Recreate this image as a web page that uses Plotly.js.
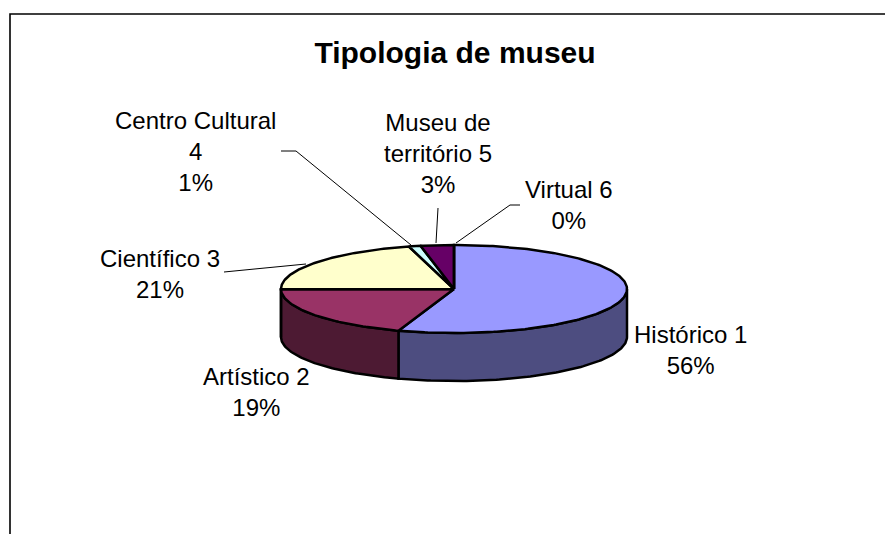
<!DOCTYPE html>
<html>
<head>
<meta charset="utf-8">
<script src="https://cdn.plot.ly/plotly-3.0.1.min.js"></script>
<style>html,body{margin:0;padding:0;background:#fff}#c{width:885px;height:534px}</style>
</head>
<body>
<div id="c"></div>
<script>
var categories = ["Histórico 1","Artístico 2","Científico 3","Centro Cultural 4","Museu de território 5","Virtual 6"];
var shares = [55.2, 19.7, 20.9, 1.1, 3.1, 0];
var topColors = ["#9999FF","#993366","#FFFFCC","#CCFFFF","#660066","#FF8080"];
var wallColors = ["#4D4D80","#4D1A33","#808066","#668080","#330033","#804040"];
var labelLines = [
  "Histórico 1<br>56%",
  "Artístico 2<br>19%",
  "Científico 3<br>21%",
  "Centro Cultural<br>4<br>1%",
  "Museu de<br>território 5<br>3%",
  "Virtual 6<br>0%"
];
var labelAnchors = [[690,350],[256,392],[160,274],[195,151],[438,153],[569,205]];
var leaderXs = [[224,306],[281,296,411],[438,436],[520,510,456]];
var leaderYs = [[272,264],[151,151,245],[208,243],[205,205,243]];

var cx = 454, cy = 289, rx = 173, ry = 44, depth = 48;
var ink = "#000000", fontName = "Liberation Sans, Arial, sans-serif";

function pt(deg, dy){
  var r = deg*Math.PI/180;
  return [cx + rx*Math.sin(r), cy - ry*Math.cos(r) + (dy||0)];
}
function arc(a, b, dy){
  var out = [], n = Math.max(2, Math.ceil(Math.abs(b-a)));
  for (var i = 0; i <= n; i++) out.push(pt(a + (b-a)*i/n, dy));
  return out;
}
function poly(pts, color, name){
  return {type:"scatter", mode:"lines", x:pts.map(function(p){return p[0]}), y:pts.map(function(p){return p[1]}),
    fill:"toself", fillcolor:color, line:{color:ink,width:2.5,shape:"linear"}, name:name, hoverinfo:"name", showlegend:false};
}
var traces = [], start = 0, tops = [];
shares.forEach(function(v,i){
  var end = start + v*3.6;
  var a = Math.max(start,90), b = Math.min(end,270);
  if (b > a) {
    traces.push(poly(arc(a,b,0).concat(arc(b,a,depth)).concat([pt(a,0)]), wallColors[i], categories[i]));
  }
  tops.push(poly([[cx,cy]].concat(arc(start,end,0)).concat([[cx,cy]]), topColors[i], categories[i]));
  start = end;
});
traces = traces.concat(tops);
leaderXs.forEach(function(xs,i){
  traces.push({type:"scatter",mode:"lines",x:xs,y:leaderYs[i],line:{color:ink,width:1},hoverinfo:"skip",showlegend:false});
});
// chart-area frame: top and left edges
traces.push({type:"scatter",mode:"lines",x:[10,10,885],y:[534,14,14],line:{color:ink,width:1.6},hoverinfo:"skip",showlegend:false});

var annotations = labelLines.map(function(t,i){
  return {x:labelAnchors[i][0], y:labelAnchors[i][1], xref:"x", yref:"y", text:t, showarrow:false, align:"center",
    xanchor:"center", yanchor:"middle", font:{family:fontName,size:24,color:"#000"}};
});
Plotly.newPlot("c", traces, {
  width:885, height:534, margin:{l:0,r:0,t:0,b:0}, paper_bgcolor:"#fff", plot_bgcolor:"#fff", showlegend:false,
  title:{text:"<b>Tipologia de museu</b>", x:455/885, xanchor:"center", y:1-52/534, yanchor:"middle",
    font:{family:fontName,size:30,color:"#000"}},
  xaxis:{range:[0,885],visible:false,fixedrange:true},
  yaxis:{range:[534,0],visible:false,fixedrange:true},
  annotations:annotations
}, {displayModeBar:false, staticPlot:true});
</script>
</body>
</html>
